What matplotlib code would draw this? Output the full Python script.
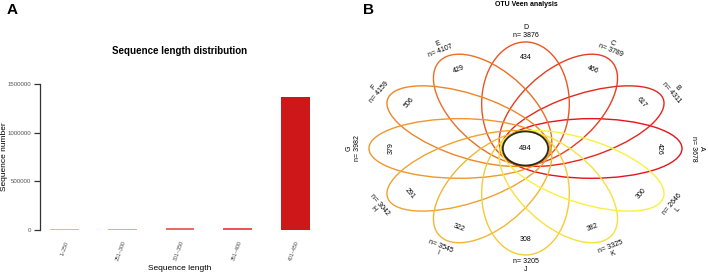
import numpy as np
import matplotlib.pyplot as plt
from matplotlib.patches import Ellipse

plt.rcParams['font.family'] = ['Liberation Sans', 'DejaVu Sans']

# Panel A: sequence length distribution
length_bins = ['1~250', '251~300', '301~350', '351~400', '401~450']
seq_counts = [14000, 15000, 18000, 19000, 1362000]
bar_colors = ['#f6a9a9', '#f49d9d', '#ee6a6a', '#ea5656', '#cd1719']
y_ticks = [0, 500000, 1000000, 1500000]

# Panel B: OTU flower (Venn) plot
samples = ['A', 'B', 'C', 'D', 'E', 'F', 'G', 'H', 'I', 'J', 'K', 'L']
otu_totals = [3678, 4311, 3789, 3876, 4107, 4159, 3982, 3042, 3545, 3205, 3325, 2646]
unique_otus = [426, 617, 466, 434, 429, 506, 379, 291, 322, 308, 382, 300]
core_otus = 494
petal_colors = ['#e5131b', '#e6261d', '#e83d1f', '#e95622', '#ec6e25', '#ef8528',
                '#f0972c', '#eea22f', '#f1b533', '#f5cb38', '#f8e03c', '#fbef3f']

fig = plt.figure(figsize=(7.08, 2.75), dpi=100)

# ---------------- A ----------------
ax = fig.add_axes([39.6 / 708, 39 / 275, 280.8 / 708, 158 / 275])
x = np.arange(len(length_bins)) * 2 + 1.5
ax.bar(x, seq_counts, width=1.0, color=bar_colors)
ax.set_xlim(0.64, 10.36)
ax.set_ylim(-60000, 1560000)
for s in ['top', 'right', 'bottom']:
    ax.spines[s].set_visible(False)
ax.spines['left'].set_bounds(0, 1500000)
ax.spines['left'].set_color('#333333')
ax.spines['left'].set_linewidth(0.9)
ax.set_yticks(y_ticks, [str(v) for v in y_ticks], fontsize=4.4, color='#555555')
ax.tick_params(axis='y', length=4, width=0.9, color='#333333', pad=2)
ax.set_xticks(x, length_bins, rotation=70, ha='right', rotation_mode='anchor',
              fontsize=3.8, color='#444444')
ax.tick_params(axis='x', length=0, pad=3)

# axis titles placed by hand so they sit where the original ones do
fig.text(4.5 / 708, 1 - 157 / 275, 'Sequence number', fontsize=6, rotation=90,
         ha='center', va='center')
fig.text(180 / 708, 1 - 268 / 275, 'Sequence length', fontsize=6, ha='center', va='center')
fig.text(180 / 708, 1 - 51 / 275, 'Sequence length distribution', fontsize=7,
         fontweight='bold', ha='center', va='center')
fig.text(12 / 708, 1 - 10 / 275, 'A', fontsize=11, fontweight='bold', ha='center', va='center')

# ---------------- B ----------------
bx = fig.add_axes([340 / 708, 0, 368 / 708, 1])
bx.set_xlim(-1.185, 1.166)
bx.set_ylim(-1.188, 1.394)
bx.axis('off')

d, a, b = 0.42, 0.58, 0.28
for i, name in enumerate(samples):
    theta = i * 360 / len(samples)
    t = np.deg2rad(theta)
    bx.add_patch(Ellipse((d * np.cos(t), d * np.sin(t)), 2 * a, 2 * b, angle=theta,
                         fill=False, edgecolor=petal_colors[i], lw=1.0))
    if theta <= 180:
        rot = theta - 90
        label = f'{name}\nn= {otu_totals[i]}'
    else:
        rot = theta - 270
        label = f'n= {otu_totals[i]}\n{name}'
    bx.text(0.855 * np.cos(t), 0.855 * np.sin(t), str(unique_otus[i]), fontsize=5,
            rotation=rot, transform_rotates_text=True, rotation_mode='anchor',
            ha='center', va='center')
    bx.text(1.1 * np.cos(t), 1.1 * np.sin(t), label, fontsize=5, linespacing=1.1,
            rotation=rot, transform_rotates_text=True, rotation_mode='anchor',
            ha='center', va='center', multialignment='center')

bx.add_patch(Ellipse((0, 0), 0.29, 0.32, facecolor='white', edgecolor='#2b2b12', lw=1.3))
bx.text(0, 0, str(core_otus), fontsize=5.5, ha='center', va='center')

fig.text(526 / 708, 1 - 5 / 275, 'OTU Veen analysis', fontsize=5, fontweight='bold',
         ha='center', va='center')
fig.text(368 / 708, 1 - 10 / 275, 'B', fontsize=11, fontweight='bold', ha='center', va='center')

plt.savefig('out.png', dpi=100)
